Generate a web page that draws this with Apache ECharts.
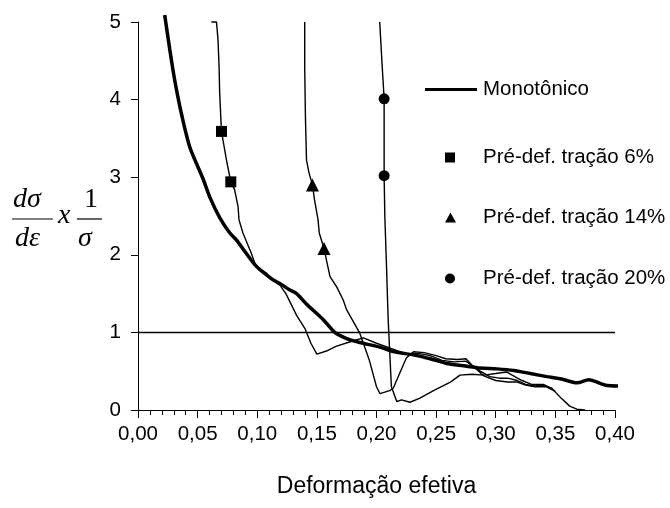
<!DOCTYPE html>
<html>
<head>
<meta charset="utf-8">
<script src="https://cdn.jsdelivr.net/npm/echarts@6/dist/echarts.min.js"></script>
<style>
html,body{margin:0;padding:0;background:#fff;}
#chart{width:670px;height:508px;}
</style>
</head>
<body>
<div id="chart"></div>
<script>
// X axis ticks
const xTicks = [0, 0.05, 0.10, 0.15, 0.20, 0.25, 0.30, 0.35, 0.40];
const yTicks = [0, 1, 2, 3, 4, 5];

// Monotônico (thick curve)
const monoX = [0.0224,0.0267,0.0308,0.0364,0.0434,0.0545,0.0603,0.0685,0.077,0.0826,0.0993,0.113,0.119,0.127,0.133,0.141,0.155,0.165,0.175,0.186,0.203,0.215,0.231,0.245,0.259,0.273,0.287,0.301,0.315,0.329,0.343,0.355,0.368,0.378,0.392,0.407];
const monoY = [5.09,4.64,4.25,3.82,3.39,2.98,2.74,2.48,2.28,2.19,1.85,1.68,1.63,1.55,1.50,1.37,1.17,1.00,0.92,0.87,0.81,0.75,0.71,0.66,0.60,0.57,0.54,0.53,0.51,0.47,0.43,0.40,0.35,0.39,0.32,0.31];

// Pré-def. tração 6%
const pre6X = [0.0615,0.0658,0.0671,0.068,0.0685,0.070,0.0742,0.0778,0.081,0.0839,0.0847,0.088,0.095,0.099,0.108,0.110,0.119,0.124,0.133,0.140,0.145,0.150,0.158,0.166,0.178,0.189,0.200,0.211,0.225,0.235,0.245,0.255,0.265,0.275,0.282,0.29,0.30,0.31,0.318,0.325,0.333,0.342,0.35];
const pre6Y = [5.0,5.0,4.77,4.42,4.08,3.59,3.22,2.94,2.84,2.62,2.45,2.28,2.02,1.85,1.76,1.70,1.61,1.50,1.22,1.05,0.86,0.72,0.76,0.82,0.88,0.93,0.86,0.80,0.72,0.73,0.70,0.64,0.62,0.63,0.55,0.44,0.38,0.36,0.36,0.32,0.30,0.30,0.24];
const pre6MarkX = [0.070, 0.0778];
const pre6MarkY = [3.59, 2.94];

// Pré-def. tração 14%
const pre14X = [0.1398,0.1398,0.1404,0.1413,0.1435,0.1463,0.148,0.151,0.152,0.156,0.161,0.1665,0.172,0.175,0.186,0.194,0.200,0.203,0.211,0.214,0.225,0.231,0.24,0.25,0.258,0.268,0.275,0.28,0.287,0.295,0.303,0.31,0.318,0.325,0.333,0.34,0.347,0.355,0.362,0.368,0.375];
const pre14Y = [5.0,4.42,3.78,3.22,3.05,2.90,2.71,2.45,2.28,2.08,1.72,1.59,1.42,1.29,0.99,0.64,0.30,0.21,0.25,0.28,0.67,0.75,0.74,0.70,0.66,0.65,0.66,0.58,0.50,0.43,0.41,0.41,0.38,0.33,0.31,0.32,0.28,0.15,0.05,0.01,0.0];
const pre14MarkX = [0.1463, 0.156];
const pre14MarkY = [2.90, 2.08];

// Pré-def. tração 20%
const pre20X = [0.2027,0.2045,0.2064,0.2064,0.207,0.2084,0.2097,0.211,0.2125,0.217,0.221,0.228,0.236,0.249,0.262,0.27,0.28,0.29,0.30,0.309,0.316,0.322,0.33,0.34,0.345];
const pre20Y = [5.0,4.5,4.01,3.02,2.49,1.85,1.20,0.77,0.30,0.11,0.13,0.10,0.15,0.26,0.36,0.45,0.46,0.45,0.47,0.49,0.43,0.38,0.33,0.33,0.29];
const pre20MarkX = [0.2064, 0.2064];
const pre20MarkY = [4.01, 3.02];

// Reference line y = 1
const refX = [0, 0.40];
const refY = [1, 1];

const names = ['Monotônico','Pré-def. tração 6%','Pré-def. tração 14%','Pré-def. tração 20%'];

const zip = (xs, ys) => xs.map((x, i) => [x, ys[i]]);

const chart = echarts.init(document.getElementById('chart'), null, {renderer: 'canvas'});
const SANS = 'Liberation Sans, Arial, sans-serif';
const SERIF = 'Liberation Serif, Times New Roman, serif';

const thin = {color: '#000', width: 1.4};
const legText = {fontFamily: SANS, fontSize: 20.5, color: '#000'};

chart.setOption({
  animation: false,
  backgroundColor: '#fff',
  grid: {left: 138, right: 55, top: 22, bottom: 98, containLabel: false},
  xAxis: {
    type: 'value', min: 0, max: 0.40, interval: 0.05,
    name: 'Deformação efetiva', nameLocation: 'middle', nameGap: 65,
    nameTextStyle: {fontFamily: SANS, fontSize: 23, color: '#000'},
    axisLine: {show: true, onZero: false, lineStyle: {color: '#000', width: 1}},
    axisTick: {show: true, inside: false, length: 8, lineStyle: {color: '#000', width: 1}},
    minorTick: {show: true, splitNumber: 5, length: 5, lineStyle: {color: '#000', width: 1}},
    splitLine: {show: false},
    axisLabel: {margin: 14, fontFamily: SANS, fontSize: 20.5, color: '#000',
      formatter: v => v.toFixed(2).replace('.', ',')}
  },
  yAxis: {
    type: 'value', min: 0, max: 5, interval: 1,
    axisLine: {show: true, onZero: false, lineStyle: {color: '#000', width: 1}},
    axisTick: {show: true, inside: false, length: 7, lineStyle: {color: '#000', width: 1}},
    splitLine: {show: false},
    axisLabel: {margin: 17, fontFamily: SANS, fontSize: 20.5, color: '#000'}
  },
  legend: [
    {data: [names[0]], left: 420, top: 74, icon: 'rect', itemWidth: 52, itemHeight: 3,
     selectedMode: false, textStyle: Object.assign({padding: [0,0,0,1]}, legText)},
    {data: [names[1]], left: 440, top: 142, icon: 'rect', itemWidth: 10, itemHeight: 10,
     selectedMode: false, textStyle: Object.assign({padding: [0,0,0,23]}, legText)},
    {data: [names[2]], left: 440, top: 202, icon: 'triangle', itemWidth: 11, itemHeight: 10,
     selectedMode: false, textStyle: Object.assign({padding: [0,0,0,22]}, legText)},
    {data: [names[3]], left: 440, top: 263, icon: 'circle', itemWidth: 10, itemHeight: 10,
     selectedMode: false, textStyle: Object.assign({padding: [0,0,0,23]}, legText)}
  ],
  graphic: [
    {type: 'text', left: 13, top: 186, style: {text: 'dσ', font: 'italic 28px ' + SERIF, fill: '#000'}},
    {type: 'line', shape: {x1: 12, y1: 219, x2: 53, y2: 219}, style: {stroke: '#000', lineWidth: 1.2}},
    {type: 'text', left: 15, top: 225, style: {text: 'dε', font: 'italic 28px ' + SERIF, fill: '#000'}},
    {type: 'text', left: 58, top: 202, style: {text: 'x', font: 'italic 28px ' + SERIF, fill: '#000'}},
    {type: 'text', left: 84, top: 186, style: {text: '1', font: '28px ' + SERIF, fill: '#000'}},
    {type: 'line', shape: {x1: 77, y1: 219, x2: 102, y2: 219}, style: {stroke: '#000', lineWidth: 1.2}},
    {type: 'text', left: 78, top: 225, style: {text: 'σ', font: 'italic 28px ' + SERIF, fill: '#000'}}
  ],
  series: [
    {name: 'ref', type: 'line', data: zip(refX, refY), symbol: 'none', silent: true,
     lineStyle: {color: '#000', width: 1.5}, clip: false},
    {name: 'c6', type: 'line', data: zip(pre6X, pre6Y), symbol: 'none', lineStyle: thin, clip: false},
    {name: 'c14', type: 'line', data: zip(pre14X, pre14Y), symbol: 'none', lineStyle: thin, clip: false},
    {name: 'c20', type: 'line', data: zip(pre20X, pre20Y), symbol: 'none', lineStyle: thin, clip: false},
    {name: names[0], type: 'line', data: zip(monoX, monoY), symbol: 'none', clip: false, smooth: 0.25,
     itemStyle: {color: '#000'}, lineStyle: {color: '#000', width: 3.5}},
    {name: names[1], type: 'scatter', data: zip(pre6MarkX, pre6MarkY), symbol: 'rect', symbolSize: 11,
     itemStyle: {color: '#000', opacity: 1}},
    {name: names[2], type: 'scatter', data: zip(pre14MarkX, pre14MarkY), symbol: 'triangle', symbolSize: 13,
     itemStyle: {color: '#000', opacity: 1}},
    {name: names[3], type: 'scatter', data: zip(pre20MarkX, pre20MarkY), symbol: 'circle', symbolSize: 11,
     itemStyle: {color: '#000', opacity: 1}}
  ]
});
</script>
</body>
</html>
